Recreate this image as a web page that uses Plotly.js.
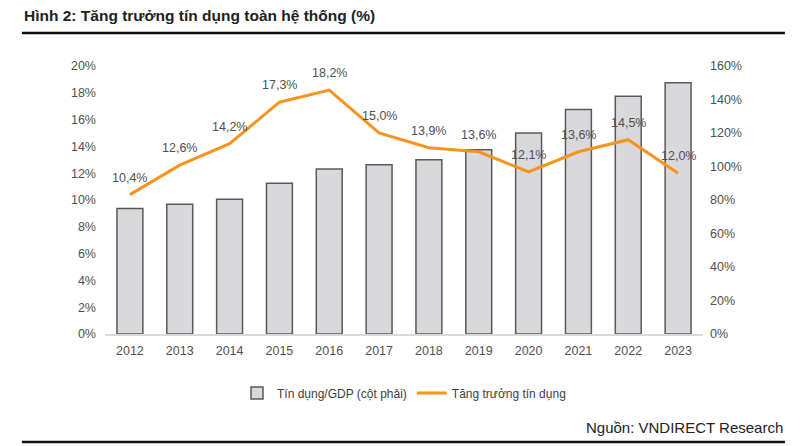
<!DOCTYPE html>
<html>
<head>
<meta charset="utf-8">
<script src="https://cdn.plot.ly/plotly-3.0.1.min.js"></script>
<style>
  body { margin: 0; background: #fff; }
  #chart { width: 810px; height: 446px; }
</style>
</head>
<body>
<div id="chart"></div>
<script>
var years = ['2012', '2013', '2014', '2015', '2016', '2017', '2018', '2019', '2020', '2021', '2022', '2023'];
// tín dụng/GDP, right axis (%)
var creditGdp = [75, 77.5, 80.5, 90, 98.5, 101, 104, 110, 120, 134, 142, 150];
// tăng trưởng tín dụng, left axis (%)
var creditGrowth = [10.4, 12.6, 14.2, 17.3, 18.2, 15.0, 13.9, 13.6, 12.1, 13.6, 14.5, 12.0];

// bars sit on the base axis (drawn right), the line on the overlay so it stays on top
var barTrace = {
  x: years,
  y: creditGdp,
  name: 'Tín dụng/GDP (cột phải)',
  type: 'bar',
  yaxis: 'y',
  width: 0.52,
  marker: { color: '#d9d8da', line: { color: '#5a5a5a', width: 1.5 } },
  hoverinfo: 'skip'
};

var lineTrace = {
  x: years,
  y: creditGrowth,
  name: 'Tăng trưởng tín dụng',
  type: 'scatter',
  yaxis: 'y2',
  mode: 'lines',
  line: { color: '#f7941d', width: 3 },
  cliponaxis: false
};

// value labels, lifted a bit above each point like the source
// (x given as the category index so the category axis stays intact)
var labelNotes = years.map(function (yr, i) {
  return {
    x: i, y: creditGrowth[i], xref: 'x', yref: 'y2',
    text: creditGrowth[i].toFixed(1).replace('.', ',') + '%',
    showarrow: false, yshift: 17,
    font: { size: 12.5, color: '#505050' }
  };
});

var tickFont = { family: 'Liberation Sans, Arial, sans-serif', size: 12.5, color: '#505050' };

var layout = {
  width: 810,
  height: 446,
  margin: { l: 105, r: 107, t: 66, b: 112 },
  paper_bgcolor: '#ffffff',
  plot_bgcolor: '#ffffff',
  font: { family: 'Liberation Sans, Arial, sans-serif', color: '#505050' },
  showlegend: true,
  legend: {
    orientation: 'h',
    x: 0.5, xanchor: 'center',
    y: -0.22, yanchor: 'middle',
    font: { size: 12, color: '#404040' },
    traceorder: 'normal'
  },
  xaxis: {
    type: 'category',
    categoryarray: years,
    tickfont: tickFont,
    showgrid: false,
    showline: true,
    linecolor: '#d9d9d9',
    linewidth: 2,
    ticks: '',
    ticklabelstandoff: 4
  },
  yaxis: {
    range: [0, 160],
    dtick: 20,
    ticksuffix: '%',
    tickfont: tickFont,
    side: 'right',
    showgrid: false,
    zeroline: false,
    ticks: '',
    ticklabelstandoff: 6
  },
  yaxis2: {
    range: [0, 20],
    dtick: 2,
    ticksuffix: '%',
    tickfont: tickFont,
    overlaying: 'y',
    side: 'left',
    showgrid: false,
    zeroline: false,
    ticks: '',
    ticklabelstandoff: 8
  },
  annotations: [
    {
      text: '<b>Hình 2: Tăng trưởng tín dụng toàn hệ thống (%)</b>',
      xref: 'paper', yref: 'paper',
      x: -0.139, y: 1.19, xanchor: 'left', yanchor: 'middle',
      showarrow: false,
      font: { size: 15.5, color: '#222222' }
    },
    {
      text: 'Nguồn: VNDIRECT Research',
      xref: 'paper', yref: 'paper',
      x: 1.137, y: -0.35, xanchor: 'right', yanchor: 'middle',
      showarrow: false,
      font: { size: 15, color: '#222222' }
    }
  ].concat(labelNotes),
  shapes: [
    {
      type: 'line', xref: 'paper', yref: 'paper',
      x0: -0.139, x1: 1.137, y0: 1.123, y1: 1.123,
      line: { color: '#111111', width: 2.5 }
    },
    {
      type: 'line', xref: 'paper', yref: 'paper',
      x0: -0.139, x1: 1.137, y0: -0.403, y1: -0.403,
      line: { color: '#111111', width: 2.5 }
    }
  ]
};

Plotly.newPlot('chart', [barTrace, lineTrace], layout, { displayModeBar: false, staticPlot: true });
</script>
</body>
</html>
